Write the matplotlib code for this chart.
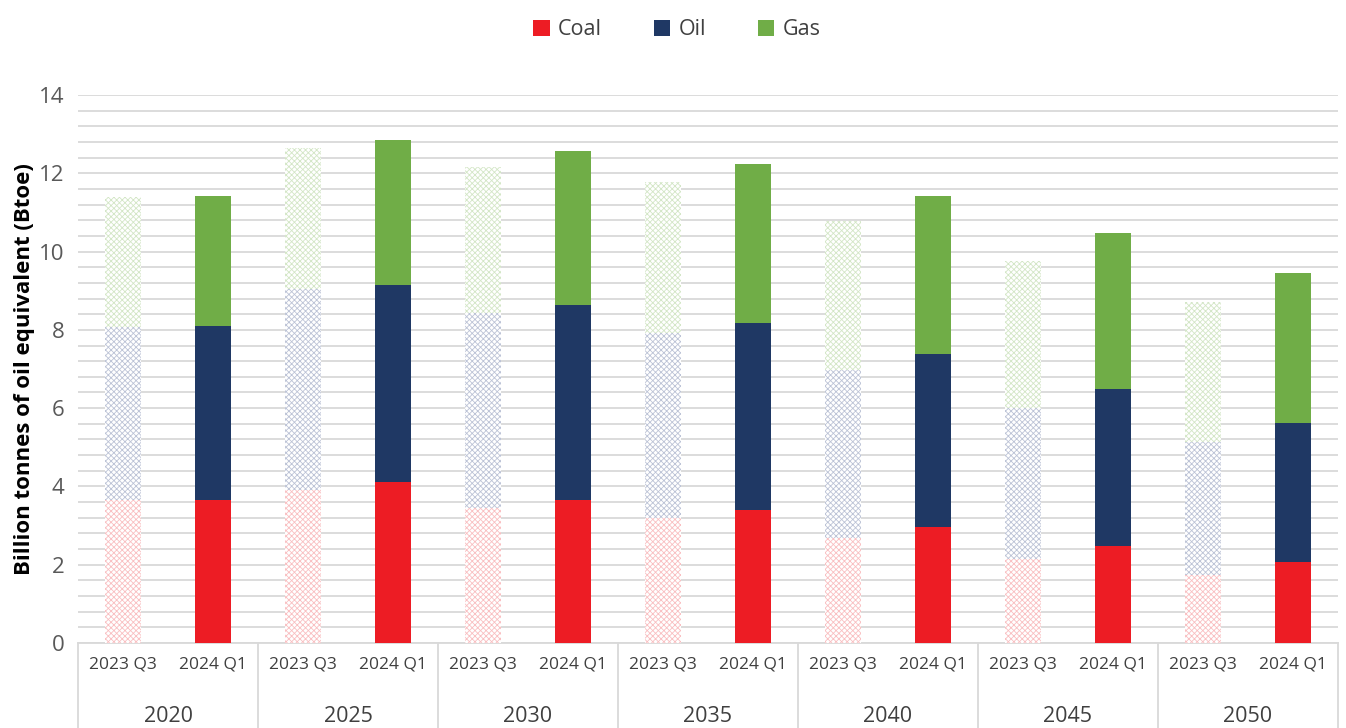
#!/usr/bin/env python
import numpy as np
import matplotlib
matplotlib.use('Agg')
import matplotlib.pyplot as plt
import matplotlib.transforms as mtrans
from matplotlib.ticker import MultipleLocator

#
#  data (Btoe)
#
years    = ['2020', '2025', '2030', '2035', '2040', '2045', '2050']
editions = ['2023 Q3', '2024 Q1']
fuels    = ['Coal', 'Oil', 'Gas']

coal_q3 = [3.64, 3.91, 3.45, 3.19, 2.68, 2.15, 1.74]
oil_q3  = [4.43, 5.13, 4.98, 4.72, 4.29, 3.86, 3.40]
gas_q3  = [3.33, 3.60, 3.74, 3.86, 3.82, 3.75, 3.58]

coal_q1 = [3.65, 4.10, 3.64, 3.40, 2.97, 2.48, 2.07]
oil_q1  = [4.46, 5.05, 5.00, 4.77, 4.41, 4.01, 3.56]
gas_q1  = [3.31, 3.70, 3.93, 4.07, 4.05, 3.98, 3.83]

colors = {'Coal': '#ED1C24', 'Oil': '#1F3864', 'Gas': '#70AD47'}
light  = {'Coal': '#F9BFC1', 'Oil': '#BCC3D6', 'Gas': '#D3E6C6'}

plt.rcParams['font.family'] = ['Open Sans', 'DejaVu Sans']
plt.rcParams['hatch.linewidth'] = 0.6

fig = plt.figure(figsize=(13.46, 7.28), dpi=100)
ax = fig.add_axes([0.058, 0.1168, 0.936, 0.7527])

ngrp = len(years)
ned = len(editions)
x_q3 = np.arange(ngrp) * ned
x_q1 = x_q3 + 1
bw = 0.4

# old edition: light hatched bars
bottom = np.zeros(ngrp)
for f, vals in zip(fuels, [coal_q3, oil_q3, gas_q3]):
    ax.bar(x_q3, vals, bw, bottom=bottom, facecolor='white',
           edgecolor=light[f], hatch='xxxxxx', linewidth=0, zorder=3)
    bottom += np.array(vals)

# new edition: solid bars
bottom = np.zeros(ngrp)
for f, vals in zip(fuels, [coal_q1, oil_q1, gas_q1]):
    ax.bar(x_q1, vals, bw, bottom=bottom, color=colors[f], label=f,
           linewidth=0, zorder=3)
    bottom += np.array(vals)

ax.set_ylim(0, 14)
ax.set_xlim(-0.5, ngrp * ned - 0.5)
ax.yaxis.set_major_locator(MultipleLocator(2))
ax.yaxis.set_minor_locator(MultipleLocator(0.4))
ax.grid(True, axis='y', which='both', color='#D9D9D9', linewidth=1.3, zorder=0)
ax.tick_params(axis='y', which='both', length=0, labelsize=16,
               labelcolor='#595959', pad=10)
for s in ['top', 'right', 'left']:
    ax.spines[s].set_visible(False)
ax.spines['bottom'].set_color('#D9D9D9')
ax.spines['bottom'].set_linewidth(1.3)

# category labels (first level)
ticks = np.concatenate([x_q3, x_q1])
labs = [editions[0]] * ngrp + [editions[1]] * ngrp
ax.set_xticks(ticks)
ax.set_xticklabels(labs)
ax.tick_params(axis='x', length=0, labelsize=12.5, labelcolor='#404040', pad=10)

# group labels (second level) and separators
trans = mtrans.blended_transform_factory(ax.transData, ax.transAxes)
for i, yr in enumerate(years):
    ax.text(x_q3[i] + 0.5, -0.135, yr, transform=trans, ha='center',
            va='center', fontsize=15.5, color='#404040')
for b in np.arange(ngrp + 1) * ned - 0.5:
    ax.plot([b, b], [0, -0.16], transform=trans, color='#D9D9D9',
            linewidth=1.3, clip_on=False)

ax.set_ylabel('Billion tonnes of oil equivalent (Btoe)', fontsize=16,
              fontweight='bold', color='black', labelpad=3)

fig.legend(loc='upper center', bbox_to_anchor=(0.503, 1.0), ncol=3,
           frameon=False, fontsize=15.5, handlelength=0.75, handleheight=0.75,
           columnspacing=2.4, handletextpad=0.4, labelcolor='#404040')

fig.savefig('out.png', dpi=100)
